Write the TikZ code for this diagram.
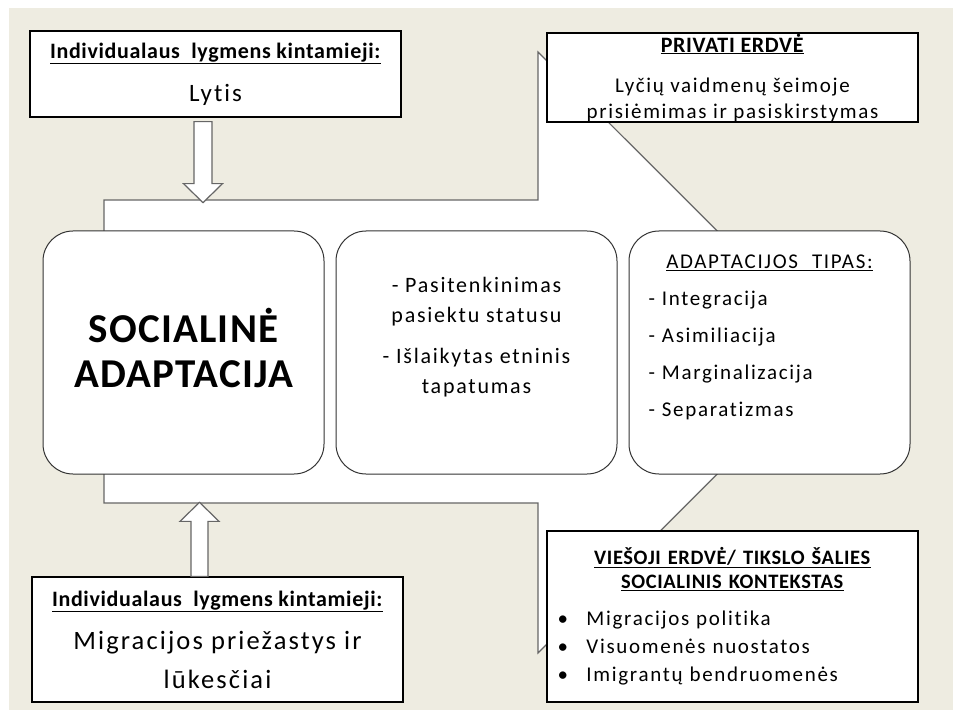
\documentclass[tikz,border=0pt]{standalone}
\usepackage{fontspec}
\setmainfont{Carlito}[Ligatures=NoCommon,LetterSpace=8,BoldFeatures={LetterSpace=3}]
\usetikzlibrary{positioning}
\definecolor{bgbeige}{HTML}{EEECE1}

\begin{document}
\begin{tikzpicture}[x=1pt,y=-1pt,
	box/.style={draw=black,fill=white,line width=1.3pt,minimum width=371pt,inner sep=0pt,align=center},
	round/.style={draw=black!80,fill=white,line width=1pt,rounded corners=30pt,minimum width=281pt,minimum height=243pt,inner sep=0pt},
	hollow/.style={draw=black!60,fill=white,line width=1.2pt}]

	\useasboundingbox (0,0) rectangle (959,722);
	\fill[bgbeige] (9,8) rectangle (953,710);

	% big arrow behind the three rounded boxes
	\draw[hollow] (104,200) -- (538,200) -- (538,52) -- (839,352.5) -- (538,653) -- (538,503) -- (104,503) -- cycle;

	\node[round,align=center,font=\fontsize{41}{45}\selectfont\bfseries] (soc) at (183.5,352.5) {SOCIALINĖ\\ADAPTACIJA\rule[-10pt]{0pt}{10pt}};
	\node[round,align=center,font=\fontsize{22}{30}\selectfont] (status) [right of=soc, node distance=293pt] {- Pasitenkinimas\\pasiektu statusu\\[11pt]- Išlaikytas etninis\\tapatumas\rule[-34pt]{0pt}{34pt}};
	\node[round,align=left,text width=242pt,font=\fontsize{21}{37}\selectfont] (tipas) [right of=status, node distance=293pt] {\makebox[242pt][c]{\underline{ADAPTACIJOS\ \ TIPAS:}}\\[0pt]- Integracija\\- Asimiliacija\\- Marginalizacija\\- Separatizmas\rule[-34pt]{0pt}{34pt}};

	\node[box,minimum height=86pt,font=\fontsize{25}{28}\selectfont] (lytis) at (215.5,74) {{\fontsize{22}{24}\selectfont\underline{\textbf{Individualaus\ \ lygmens kintamieji:}}}\\[15pt]Lytis};
	\node[box,minimum height=125pt,font=\fontsize{26.5}{39}\selectfont] (priez) at (217.5,639.5) {{\fontsize{22}{24}\selectfont\underline{\textbf{Individualaus\ \ lygmens kintamieji:}}}\\[4pt]Migracijos priežastys ir\\lūkesčiai};

	\node[box,minimum height=89pt,font=\fontsize{21}{26}\selectfont] (privati) at (732.5,77.5) {{\fontsize{22}{24}\selectfont\underline{\textbf{PRIVATI ERDVĖ}}}\\[14pt]Lyčių vaidmenų šeimoje\\prisiėmimas ir pasiskirstymas};
	\node[box,minimum height=171pt,text width=350pt,align=left,font=\fontsize{21}{28}\selectfont] (viesoji) at (732.5,616.5) {\makebox[350pt][c]{\fontsize{20.5}{24}\selectfont\underline{\textbf{VIEŠOJI ERDVĖ/ TIKSLO ŠALIES}}}\\[-4pt]\makebox[350pt][c]{\fontsize{20.5}{24}\selectfont\underline{\textbf{SOCIALINIS KONTEKSTAS}}}\\[9pt]\makebox[29pt][l]{\textbullet}Migracijos politika\\\makebox[29pt][l]{\textbullet}Visuomenės nuostatos\\\makebox[29pt][l]{\textbullet}Imigrantų bendruomenės};

	% hollow block arrows
	\coordinate (lytisout) at ([xshift=-12.5pt,yshift=-4pt]lytis.south);
	\draw[hollow] (lytisout) ++(-9,0) -- ++(0,62) -- ++(-10.5,0) -- ++(19.5,19) -- ++(19.5,-19) -- ++(-10.5,0) -- ++(0,-62) -- cycle;
	\coordinate (priezout) at ([xshift=-18pt]priez.north);
	\draw[hollow] (priezout) ++(-8.5,0) -- ++(0,-55) -- ++(-11,0) -- ++(19.5,-19) -- ++(19.5,19) -- ++(-11,0) -- ++(0,55) -- cycle;

\end{tikzpicture}
\end{document}
